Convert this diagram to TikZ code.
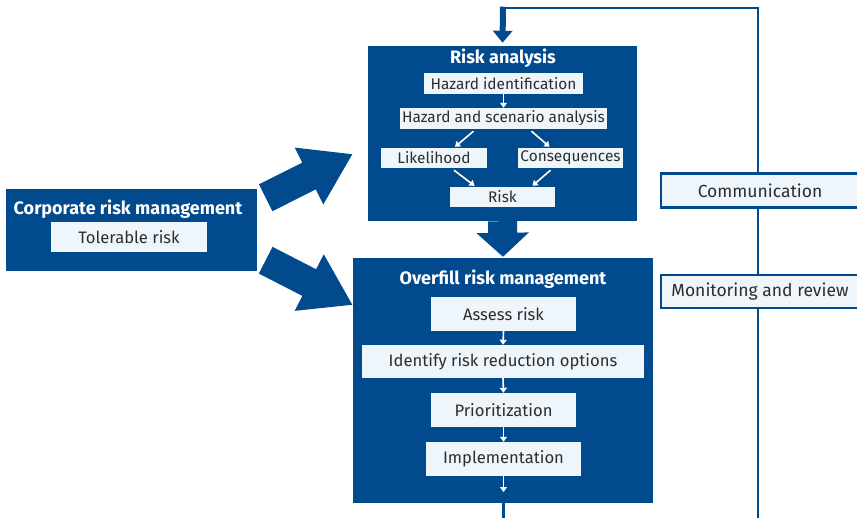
\documentclass[tikz,border=0pt]{standalone}
\usepackage{fontspec}
\setmainfont{Fira Sans}
\usetikzlibrary{arrows.meta,calc}
\definecolor{navy}{RGB}{0,74,141}
\definecolor{pale}{RGB}{238,246,252}
\definecolor{ink}{RGB}{45,45,45}
\begin{document}
\begin{tikzpicture}[x=1pt,y=-1pt,
  panel/.style={fill=navy,draw=none,inner sep=0pt},
  item/.style={fill=pale,draw=none,text=ink,inner sep=0pt,font=\fontsize{15.4}{17}\selectfont},
  bigitem/.style={item,font=\fontsize{16.6}{19}\selectfont},
  sideitem/.style={fill=pale,draw=navy,line width=2.5pt,text=ink,inner sep=0pt,font=\fontsize{17.5}{20}\selectfont},
  title/.style={text=white,font=\bfseries\fontsize{18}{20}\selectfont,inner sep=0pt},
  flow/.style={white,line width=1.6pt,-{Triangle[width=7pt,length=5pt]}},
  loopline/.style={navy,line width=2.5pt},
  block/.style={navy,line width=30pt,-{Triangle[width=60pt,length=49pt]}}]
\useasboundingbox (0,0) rectangle (857,518);
\begin{scope}
\clip (0,0) rectangle (857,518);

% feedback loop on the right
\coordinate (topturn) at (503,8);
\coordinate (loopbot) at (758,518);
\coordinate (outbot) at (503,518);
\draw[loopline,line join=miter] (loopbot) |- (topturn);

% side boxes on the loop
\node[sideitem,minimum width=198pt,minimum height=34pt] (com) at (760,190.5) {Communication};
\node[sideitem,minimum width=198pt,minimum height=33pt] (mon) at (760,291.5) {Monitoring and review};

% risk analysis panel
\node[panel,minimum width=269pt,minimum height=175pt] (ra) at (502.5,133.5) {};
\node[title] (ratitle) at (503,58) {Risk analysis};
\node[item,minimum width=159pt,minimum height=21pt] (hi) at (503.5,83.5) {Hazard identification};
\node[item,minimum width=207pt,minimum height=21pt] (hsa) at (503.5,118.5) {Hazard and scenario analysis};
\node[item,minimum width=106pt,minimum height=20pt] (lik) at (434,158) {Likelihood};
\node[item,minimum width=105pt,minimum height=20pt] (con) at (570.5,158) {Consequences};
\node[item,minimum width=105pt,minimum height=20pt] (risk) at (502.5,197) {Risk};
\draw[flow] (hi.south) -- (hsa.north);
\draw[flow] ($(hsa.south)+(-30,2)$) -- ($(lik.north)+(21,-1)$);
\draw[flow] ($(hsa.south)+(28,2)$) -- ($(con.north)+(-21,-1)$);
\draw[flow] ($(lik.south)+(20,2)$) -- ($(risk.north)+(-28,-1)$);
\draw[flow] ($(con.south)+(-20,2)$) -- ($(risk.north)+(30,-1)$);

% overfill risk management panel
\node[panel,minimum width=300pt,minimum height=245pt] (ofm) at (503,380.5) {};
\node[title] (oftitle) at (503,279) {Overfill risk management};
\node[bigitem,minimum width=145pt,minimum height=34pt] (ar) at (503.5,314) {Assess risk};
\node[bigitem,minimum width=282pt,minimum height=33pt] (iro) at (503,361.5) {Identify risk reduction options};
\node[bigitem,minimum width=145pt,minimum height=34pt] (pri) at (503.5,410) {Prioritization};
\node[bigitem,minimum width=155pt,minimum height=34pt] (imp) at (503.5,459) {Implementation};
\coordinate (impout) at (503.5,492);
\draw[flow] (ar.south) -- (iro.north);
\draw[flow] (iro.south) -- (pri.north);
\draw[flow] (pri.south) -- (imp.north);
\draw[flow] (imp.south) -- (impout);
\draw[loopline,line width=3pt] (ofm.south) -- (outbot);

% corporate risk management panel
\node[panel,minimum width=251pt,minimum height=82pt] (crm) at (131.5,230) {};
\node[title] (crmtitle) at (128,209) {Corporate risk management};
\node[bigitem,minimum width=156pt,minimum height=30pt] (tol) at (129,237) {Tolerable risk};

% main flow arrows
\draw[navy,line width=6pt,-{Triangle[width=19pt,length=12pt]},shorten >=3pt] ($(topturn)+(0,-1.25)$) -- (ra.north);
\draw[navy,line width=29pt,-{Triangle[width=51pt,length=24pt]},shorten >=1pt] (ra.south) -- (ofm.north);
\draw[block] ($(crm.north east)+(8.5,9)$) -- ($(ra.west)+(-15,20.5)$);
\draw[block] ($(crm.south east)+(8.5,-11)$) -- ($(ofm.west)+(0,-75.5)$);
\end{scope}
\end{tikzpicture}
\end{document}
